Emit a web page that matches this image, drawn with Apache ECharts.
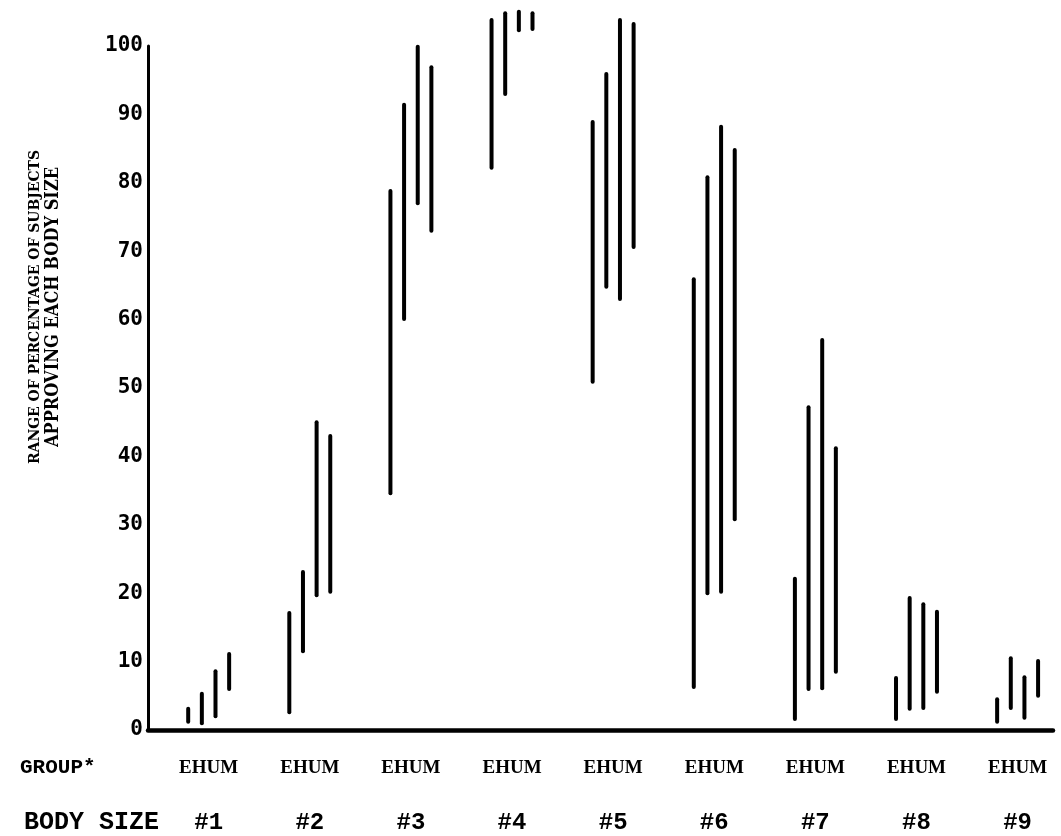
<!DOCTYPE html>
<html>
<head>
<meta charset="utf-8">
<script src="https://cdn.jsdelivr.net/npm/echarts@6/dist/echarts.min.js"></script>
<style>
  html, body { margin: 0; padding: 0; background: #fff; }
  #chart { width: 1061px; height: 836px; }
</style>
</head>
<body>
<div id="chart"></div>
<script>
// body sizes on the x axis, groups inside each body size
const bodySizes = [1, 2, 3, 4, 5, 6, 7, 8, 9];
const groups = ["E", "H", "U", "M"];
const yTicks = [0, 10, 20, 30, 40, 50, 60, 70, 80, 90, 100];

// range (low - high) of percentage approving, per group
const eLow  = [1.2, 2.6, 34.6, 82.2, 50.9, 6.3, 1.6, 1.6, 1.2];
const eHigh = [3.1, 17.1, 78.8, 103.8, 88.9, 65.9, 22.1, 7.6, 4.5];
const hLow  = [1.0, 11.5, 60.1, 93.0, 64.8, 20.0, 6.0, 3.1, 3.2];
const hHigh = [5.3, 23.1, 91.4, 104.8, 95.9, 80.8, 47.2, 19.3, 10.5];
const uLow  = [2.0, 19.7, 77.0, 102.3, 63.0, 20.2, 6.1, 3.2, 1.8];
const uHigh = [8.6, 45.0, 99.9, 105.0, 103.8, 88.2, 57.0, 18.4, 7.7];
const mLow  = [6.0, 20.2, 73.0, 102.5, 70.6, 30.8, 8.5, 5.6, 5.0];
const mHigh = [11.1, 43.0, 96.9, 104.8, 103.2, 84.8, 41.2, 17.3, 10.1];

const lows = [eLow, hLow, uLow, mLow];
const highs = [eHigh, hHigh, uHigh, mHigh];

let rangeData = [];
bodySizes.forEach((size, i) => {
  groups.forEach((g, k) => {
    rangeData.push([size, k, lows[k][i], highs[k][i]]);
  });
});

const barStep = 0.135; // gap between the four group bars, in x units
const nameFont = "'DejaVu Serif Condensed', 'Liberation Serif', serif";

let myChart = echarts.init(document.getElementById("chart"));
let option = {
  animation: false,
  backgroundColor: "#fff",
  grid: {
    left: 148,
    right: 8,
    top: 46,
    bottom: 106
  },
  xAxis: {
    type: "value",
    min: 0.4,
    max: 9.35,
    splitLine: { show: false },
    axisTick: { show: false },
    axisLine: { show: true, onZero: false, lineStyle: { color: "#000", width: 4.5 } },
    axisLabel: {
      customValues: bodySizes,
      margin: 13,
      color: "#000",
      formatter: (v) => "{g|" + groups.join("") + "}\n{s|#" + v + "}",
      rich: {
        g: { fontFamily: "Liberation Serif", fontWeight: "bold", fontSize: 19, lineHeight: 50, color: "#000" },
        s: { fontFamily: "Liberation Mono", fontWeight: "bold", fontSize: 24, lineHeight: 60, color: "#000" }
      }
    }
  },
  yAxis: {
    type: "value",
    min: 0,
    max: 100,
    interval: 10,
    splitLine: { show: false },
    axisTick: { show: false },
    axisLine: { show: true, lineStyle: { color: "#000", width: 3 } },
    axisLabel: {
      customValues: yTicks,
      margin: 5,
      color: "#000",
      fontFamily: "DejaVu Sans Mono",
      fontWeight: "bold",
      fontSize: 21,
      padding: [0, 0, 13, 0]
    }
  },
  graphic: [
    {
      type: "text", x: 35, y: 307, rotation: Math.PI / 2,
      style: {
        text: "RANGE OF PERCENTAGE OF SUBJECTS",
        font: "bold 15.5px " + nameFont,
        fill: "#000", align: "center", verticalAlign: "middle",
        textAlign: "center", textVerticalAlign: "middle"
      }
    },
    {
      type: "text", x: 53, y: 307, rotation: Math.PI / 2,
      style: {
        text: "APPROVING EACH BODY SIZE",
        font: "bold 18px " + nameFont,
        fill: "#000", align: "center", verticalAlign: "middle",
        textAlign: "center", textVerticalAlign: "middle"
      }
    },
    {
      type: "text", x: 20, y: 768,
      style: {
        text: "GROUP*",
        font: "bold 21px 'Liberation Mono'",
        fill: "#000", align: "left", verticalAlign: "middle",
        textAlign: "left", textVerticalAlign: "middle"
      }
    },
    {
      type: "text", x: 24, y: 823,
      style: {
        text: "BODY SIZE",
        font: "bold 25px 'Liberation Mono'",
        fill: "#000", align: "left", verticalAlign: "middle",
        textAlign: "left", textVerticalAlign: "middle"
      }
    }
  ],
  series: [
    {
      type: "custom",
      clip: false,
      dimensions: ["size", "group", "low", "high"],
      encode: { x: 0, y: [2, 3] },
      data: rangeData,
      renderItem: (params, api) => {
        let x = api.value(0) + (api.value(1) - 1.5) * barStep;
        let p1 = api.coord([x, api.value(2)]);
        let p2 = api.coord([x, api.value(3)]);
        return {
          type: "line",
          shape: { x1: p1[0], y1: p1[1], x2: p2[0], y2: p2[1] },
          style: { stroke: "#000", lineWidth: 4, lineCap: "round" }
        };
      }
    }
  ]
};
myChart.setOption(option);
</script>
</body>
</html>
